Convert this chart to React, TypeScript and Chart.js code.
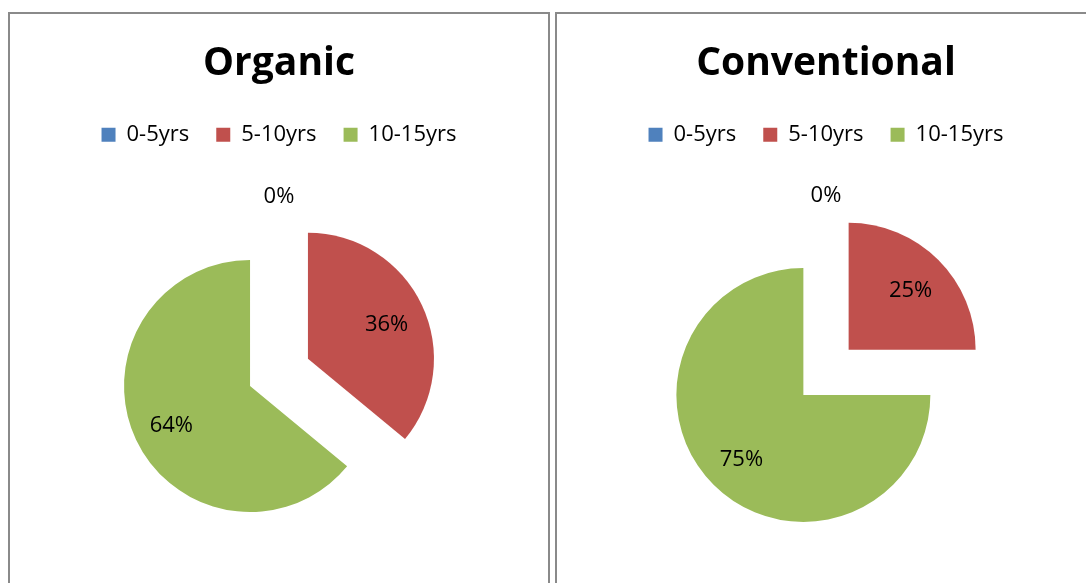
import React, { useEffect, useRef } from 'react';
import { Chart, registerables } from 'chart.js';

Chart.register(...registerables);

const categories = ['0-5yrs', '5-10yrs', '10-15yrs'];
const organicValues = [0, 36, 64];
const conventionalValues = [0, 25, 75];
const sliceColors = ['#4F81BD', '#C0504D', '#9BBB59'];
const FONT = "'Open Sans', sans-serif";

// Moves each slice outward along its mid angle (exploded pie, like Excel)
const explodePlugin = {
  id: 'explodeSlices',
  afterDatasetsUpdate(chart: any, _args: any, opts: any) {
    const d = (opts && opts.distance) || 0;
    chart.getDatasetMeta(0).data.forEach((arc: any) => {
      const mid = (arc.startAngle + arc.endAngle) / 2;
      arc.x += Math.cos(mid) * d;
      arc.y += Math.sin(mid) * d;
    });
  },
};

// Percentage labels on each slice
const pieLabelPlugin = {
  id: 'pieLabels',
  afterDatasetsDraw(chart: any) {
    const ctx = chart.ctx;
    const meta = chart.getDatasetMeta(0);
    const data = chart.data.datasets[0].data as number[];
    const total = data.reduce((a, b) => a + b, 0);
    ctx.save();
    ctx.font = `22px ${FONT}`;
    ctx.fillStyle = '#000';
    ctx.textAlign = 'center';
    ctx.textBaseline = 'middle';
    meta.data.forEach((arc: any, i: number) => {
      const v = data[i];
      const mid = (arc.startAngle + arc.endAngle) / 2;
      const r = v === 0 ? arc.outerRadius + 21 : arc.outerRadius * 0.69;
      ctx.fillText(
        `${Math.round((v / total) * 100)}%`,
        arc.x + Math.cos(mid) * r,
        arc.y + Math.sin(mid) * r + 3
      );
    });
    ctx.restore();
  },
};

function PiePanel({ title, values, radius, left }: { title: string; values: number[]; radius: number; left: number }) {
  const ref = useRef<HTMLCanvasElement | null>(null);
  useEffect(() => {
    if (!ref.current) return;
    const chart = new Chart(ref.current, {
      type: 'pie',
      data: {
        labels: categories,
        datasets: [
          {
            data: values,
            backgroundColor: sliceColors,
            borderWidth: 0,
            radius,
          } as any,
        ],
      },
      options: {
        responsive: false,
        animation: false,
        events: [],
        layout: { padding: { bottom: 25 } },
        plugins: {
          title: {
            display: true,
            text: title,
            color: '#000',
            font: { family: FONT, size: 39, weight: 'bold' },
            padding: { top: 26, bottom: 10 },
          },
          legend: {
            position: 'top',
            labels: {
              boxWidth: 14,
              boxHeight: 14,
              padding: 27,
              color: '#000',
              font: { family: FONT, size: 22 },
            },
          },
          tooltip: { enabled: false },
          explodeSlices: { distance: 32 },
        } as any,
      },
      plugins: [explodePlugin, pieLabelPlugin],
    });
    return () => chart.destroy();
  }, []);
  return (
    <div
      style={{
        position: 'absolute',
        left,
        top: 12,
        width: 538,
        height: 600,
        border: '2px solid #8a8a8a',
        background: '#fff',
      }}
    >
      <canvas ref={ref} width={538} height={600} style={{ display: 'block' }} />
    </div>
  );
}

export default function App() {
  return (
    <div
      style={{
        position: 'fixed',
        left: 0,
        top: 0,
        width: 1086,
        height: 583,
        overflow: 'hidden',
        background: '#fff',
      }}
    >
      <PiePanel title="Organic" values={organicValues} radius={126} left={8} />
      <PiePanel title="Conventional" values={conventionalValues} radius={127} left={555} />
    </div>
  );
}
